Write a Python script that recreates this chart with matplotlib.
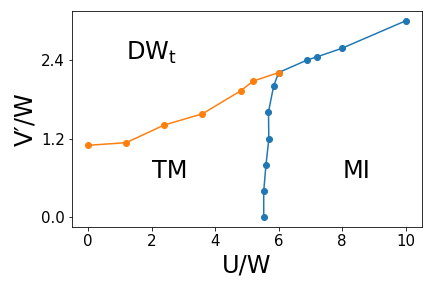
from matplotlib import pyplot as plt

# TM -> DW_t boundary (orange)
tm_u = [0.0, 1.2, 2.4, 3.6, 4.8, 5.2, 6.0]
tm_v = [1.10, 1.14, 1.41, 1.58, 1.93, 2.08, 2.21]

# MI boundary (blue)
mi_u = [5.53, 5.53, 5.60, 5.69, 5.68, 5.84, 6.0, 6.89, 7.21, 7.99, 10.0]
mi_v = [0.0, 0.40, 0.80, 1.19, 1.61, 2.00, 2.21, 2.40, 2.45, 2.58, 3.0]

y_ticks = [0.0, 1.2, 2.4]


def main() -> None:
    fig, ax = plt.subplots(figsize=(6, 4), dpi=72)
    ax.plot(mi_u, mi_v, "o-", color="C0")
    ax.plot(tm_u, tm_v, "o-", color="C1")

    ax.text(1.2, 2.4, r"DW$_\mathrm{t}$", fontsize=24)
    ax.text(2.0, 0.6, "TM", fontsize=24)
    ax.text(8.0, 0.6, "MI", fontsize=24)

    ax.set_yticks(y_ticks)
    ax.tick_params(labelsize=15)
    ax.set_xlabel("U/W", fontsize=24)
    ax.set_ylabel("V′/W", fontsize=24)

    fig.subplots_adjust(left=0.167, right=0.976, top=0.962, bottom=0.211)
    fig.savefig("out.png")


if __name__ == "__main__":
    main()
